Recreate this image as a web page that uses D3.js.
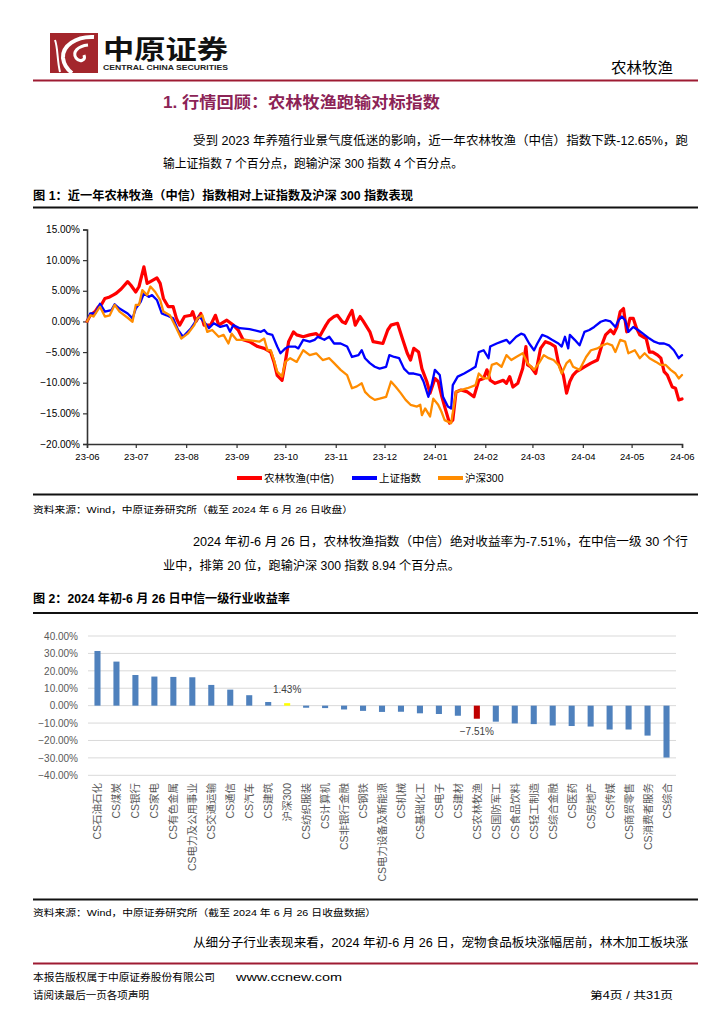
<!DOCTYPE html>
<html><head><meta charset="utf-8">
<script src="https://cdn.jsdelivr.net/npm/d3@7"></script>
<style>body{margin:0;background:#fff}</style>
</head><body><svg id="page" width="724" height="1024"></svg>
<script>
// ---------- DATA ----------
// Figure 1: day offset from 2023-06-26, cumulative return (%)
const redSeries = [[0,0],[2,1.0],[5,1.6],[7,2.4],[9,2.8],[11,3.75],[14,4.0],[16,4.3],[18,4.6],[21,5.3],[25,6.5],[27,5.9],[30,4.8],[32,5.7],[35,8.9],[37,6.2],[39,6.5],[43,7.1],[45,6.2],[47,3.75],[50,2.4],[53,2.4],[55,0.5],[57,-0.6],[60,0.8],[64,1.0],[65,1.6],[67,0],[70,1.3],[72,-0.6],[76,-0.6],[79,1.0],[81,-0.6],[86,0.2],[90,-0.6],[93,-1.4],[96,-3.0],[100,-3.3],[105,-4.1],[109,-4.4],[113,-5.0],[115,-6.6],[117,-8.8],[120,-9.6],[122,-6.6],[124,-3.3],[127,-1.7],[129,-2.2],[133,-2.5],[137,-2.2],[141,-2.0],[143,-2.5],[147,-0.6],[149,0.2],[152,0.8],[154,1.0],[157,-0.05],[159,-0.3],[161,0.8],[163,1.8],[165,-0.6],[168,0.8],[170,0],[174,-1.7],[176,-3.3],[182,-3.6],[185,-1.4],[187,-0.6],[191,-0.3],[194,-2.8],[197,-5.2],[199,-6.3],[201,-4.4],[204,-5.0],[206,-7.7],[209,-9.8],[211,-11.7],[214,-9.3],[216,-9.8],[218,-12],[220,-13.9],[223,-16.6],[225,-16.1],[227,-11.5],[230,-11.2],[234,-11.5],[238,-12.3],[241,-9.6],[244,-9.3],[246,-7.9],[248,-9.6],[251,-10.1],[254,-9.8],[256,-9.6],[258,-10.1],[260,-9.0],[262,-10.7],[265,-10.1],[268,-7.7],[270,-4.1],[271,-7.1],[273,-7.4],[276,-8.5],[279,-4.4],[282,-3.3],[285,-3.6],[288,-4.1],[290,-6.8],[293,-8.75],[295,-11.7],[297,-9.8],[299,-8.75],[301,-8.2],[303,-7.9],[306,-7.4],[310,-6.8],[314,-6.3],[317,-3.6],[319,-2.2],[322,-1.4],[324,-2.0],[326,-0.9],[328,1.6],[330,2.1],[332,-1.7],[334,0.5],[336,0.5],[338,-1.1],[340,-2.2],[342,-2.5],[344,-2.8],[346,-5.0],[348,-5.0],[351,-5.5],[353,-6.0],[355,-8.2],[357,-8.75],[360,-10.7],[362,-10.9],[364,-12.8],[366,-12.65]];
const blueSeries = [[0,0],[2,1.3],[5,1.3],[8,2.9],[11,1.6],[15,1.85],[17,2.8],[20,2.1],[25,1.3],[28,0.5],[30,2.1],[33,3.2],[35,4.6],[38,4.0],[40,4.3],[43,3.5],[46,1.3],[49,1.0],[53,0.5],[56,-1.4],[59,-2.5],[64,-1.1],[66,-0.3],[69,0.8],[72,-0.05],[75,-1.1],[78,-0.3],[82,-0.9],[86,-0.6],[88,-1.7],[90,-0.6],[94,-1.1],[100,-1.25],[107,-1.7],[109,-1.4],[111,-2.0],[114,-2.2],[117,-4.1],[119,-5.2],[122,-4.4],[124,-4.1],[128,-4.1],[130,-4.4],[133,-3.0],[137,-3.3],[140,-3.0],[142,-2.5],[146,-3.0],[149,-2.5],[152,-3.6],[156,-3.6],[160,-4.1],[163,-5.8],[167,-5.5],[169,-4.7],[171,-6.0],[174,-6.8],[177,-7.4],[180,-7.7],[184,-7.4],[186,-5.5],[189,-5.8],[192,-6.0],[195,-7.7],[198,-8.5],[201,-8.5],[205,-8.75],[207,-9.8],[210,-12.3],[212,-10.4],[214,-7.9],[217,-8.75],[219,-12.3],[222,-13.9],[224,-14.2],[225,-10.4],[228,-9.0],[232,-8.5],[236,-7.9],[239,-7.4],[241,-5.0],[244,-4.7],[247,-6.0],[248,-4.1],[252,-3.6],[255,-3.3],[258,-3.0],[260,-3.6],[264,-2.5],[267,-2.0],[269,-2.2],[272,-3.6],[275,-4.7],[277,-3.6],[280,-2.2],[283,-2.5],[286,-3.0],[290,-3.6],[292,-4.1],[294,-2.5],[296,-4.4],[297,-2.2],[300,-3.0],[303,-3.9],[306,-1.7],[309,-1.4],[312,-0.9],[316,-0.05],[319,0.2],[322,0],[325,-0.9],[327,0.2],[329,0.8],[331,0.2],[333,-1.7],[336,-0.9],[339,-1.4],[342,-2.0],[346,-2.8],[349,-3.3],[352,-3.6],[355,-3.6],[358,-3.9],[361,-4.7],[364,-6.0],[366,-5.5]];
const orangeSeries = [[0,0],[2,1.0],[4,0.8],[8,2.4],[11,0.8],[14,1.0],[17,2.7],[20,1.6],[25,0.6],[28,-0.05],[30,2.7],[32,2.7],[34,5.1],[37,4.3],[39,5.7],[42,4.8],[45,3.5],[47,1.6],[51,1.0],[55,-1.1],[58,-2.8],[62,-2.0],[66,-0.6],[68,0.5],[71,1.0],[74,-1.7],[77,-1.4],[81,-2.5],[84,-2.2],[87,-3.6],[89,-2.0],[92,-3.0],[98,-3.0],[106,-3.3],[109,-2.8],[111,-4.7],[113,-4.7],[115,-6.3],[117,-8.2],[120,-9.0],[122,-6.6],[125,-6.0],[129,-6.6],[133,-4.7],[137,-5.5],[141,-5.2],[145,-6.3],[149,-6.0],[152,-6.8],[156,-7.9],[160,-8.75],[163,-10.9],[166,-10.6],[169,-10.1],[171,-11.5],[174,-12.3],[177,-12.8],[180,-12.6],[184,-12.3],[187,-9.8],[190,-10.7],[193,-11.7],[196,-12.8],[199,-13.6],[203,-13.9],[205,-13.6],[206,-15.3],[208,-14.2],[211,-15.5],[213,-12.6],[216,-13.6],[218,-14.7],[220,-16.1],[224,-16.6],[227,-11.5],[230,-11.2],[234,-10.9],[239,-10.4],[241,-8.5],[244,-9.3],[247,-9.3],[249,-7.1],[252,-6.8],[255,-7.4],[258,-5.5],[261,-6.3],[264,-5.8],[268,-5.2],[271,-6.8],[275,-7.9],[278,-6.8],[281,-5.5],[284,-6.0],[287,-6.3],[290,-7.1],[292,-8.5],[295,-6.8],[297,-6.3],[299,-7.4],[303,-7.9],[307,-5.8],[310,-4.7],[314,-4.4],[317,-3.9],[320,-3.6],[323,-3.9],[325,-5.0],[328,-3.0],[331,-3.3],[333,-5.2],[337,-4.7],[340,-6.0],[343,-5.2],[346,-6.0],[350,-6.6],[353,-7.1],[356,-7.1],[359,-7.9],[362,-8.5],[364,-9.3],[366,-8.75]];
const seriesNames = ["农林牧渔(中信)", "上证指数", "沪深300"];
const lineXTickLabels = ["23-06","23-07","23-08","23-09","23-10","23-11","23-12","24-01","24-02","24-03","24-04","24-05","24-06"];
const lineYTicks = [-20,-15,-10,-5,0,5,10,15];

// Figure 2
const barCategories = ["CS石油石化","CS煤炭","CS银行","CS家电","CS有色金属","CS电力及公用事业","CS交通运输","CS通信","CS汽车","CS建筑","沪深300","CS纺织服装","CS计算机","CS非银行金融","CS钢铁","CS电力设备及新能源","CS机械","CS基础化工","CS电子","CS建材","CS农林牧渔","CS国防军工","CS食品饮料","CS轻工制造","CS综合金融","CS医药","CS房地产","CS传媒","CS商贸零售","CS消费者服务","CS综合"];
const barValues = [31.4,25.3,17.6,16.7,16.5,16.3,11.9,9.2,6.0,2.1,1.43,-1.2,-1.4,-2.2,-3.0,-3.6,-3.5,-4.4,-4.8,-5.8,-7.51,-9.2,-10.2,-10.6,-11.4,-11.7,-12.0,-13.7,-13.7,-17.2,-29.8];
const barYTicks = [-40,-30,-20,-10,0,10,20,30,40];

// ---------- DRAW ----------
const FONT = "'Liberation Sans','Noto Sans CJK SC',sans-serif";
const svg = d3.select("#page");
svg.append("rect").attr("width",724).attr("height",1024).attr("fill","#fff");

function txt(x, y, s, o = {}) {
  const t = svg.append("text").attr("x", x).attr("y", y).text(s)
    .attr("font-family", FONT).attr("font-size", o.size || 12.5)
    .attr("fill", o.fill || "#000").attr("font-weight", o.weight || "normal")
    .attr("text-anchor", o.anchor || "start");
  if (o.len) t.attr("textLength", o.len).attr("lengthAdjust", "spacingAndGlyphs");
  return t;
}
function hline(x1, x2, y, color, w) {
  svg.append("line").attr("x1",x1).attr("x2",x2).attr("y1",y).attr("y2",y)
    .attr("stroke",color).attr("stroke-width",w);
}

// Header logo
svg.append("rect").attr("x",50).attr("y",33).attr("width",48).attr("height",40).attr("fill","#A3262C");
svg.append("path").attr("d","M94 37 C76 36 62 46 63 58 C64 66 68 70 72 73")
  .attr("fill","none").attr("stroke","#fff").attr("stroke-width",4);
svg.append("path").attr("d","M88 45 C78 46 72 52 76 58 C80 63 86 60 84 55")
  .attr("fill","none").attr("stroke","#fff").attr("stroke-width",3);
svg.append("path").attr("d","M55 40 C58 48 57 60 60 72")
  .attr("fill","none").attr("stroke","#fff").attr("stroke-width",2);
txt(103, 59, "中原证券", {size: 26, weight: "bold", len: 125, fill:"#111"});
txt(103, 70, "CENTRAL CHINA SECURITIES", {size: 7.5, weight: "bold", len: 125, fill:"#222"});
txt(673, 73, "农林牧渔", {size: 15, anchor: "end", len: 62});
hline(33, 698, 80.5, "#9E1B32", 2);

// Title & paragraph 1
txt(163, 108, "1. 行情回顾：农林牧渔跑输对标指数", {size: 16, weight: "bold", fill: "#8C2356", len: 277});
txt(193, 145, "受到 2023 年养殖行业景气度低迷的影响，近一年农林牧渔（中信）指数下跌-12.65%，跑", {len: 495});
txt(163, 168, "输上证指数 7 个百分点，跑输沪深 300 指数 4 个百分点。", {len: 300});

// Figure 1 caption
txt(33, 200, "图 1：近一年农林牧渔（中信）指数相对上证指数及沪深 300 指数表现", {size: 12, weight: "bold", len: 380});
hline(33, 698, 207.5, "#111", 2);

// Line chart
const start = new Date(2023, 5, 26);
const x1 = d3.scaleTime().domain([start, d3.timeDay.offset(start, 366)]).range([87, 682]);
const y1 = d3.scaleLinear().domain([-20, 15]).range([444, 229.5]);
const tickDates = lineXTickLabels.map((_, i) => d3.timeMonth.offset(start, i));

const gy = svg.append("g").attr("transform","translate(87,0)")
  .call(d3.axisLeft(y1).tickValues(lineYTicks).tickSize(4).tickPadding(3)
    .tickFormat(d => d3.format(".2f")(d) + "%"));
const gx = svg.append("g").attr("transform","translate(0,444)")
  .call(d3.axisBottom(x1).tickValues(tickDates).tickSize(4).tickPadding(5)
    .tickFormat((d, i) => lineXTickLabels[i]));
[gy, gx].forEach(g => {
  g.selectAll(".domain").attr("stroke","#333").attr("stroke-width",1.6);
  g.selectAll(".tick line").attr("stroke","#333").attr("stroke-width",1.2);
  g.selectAll("text").attr("font-family",FONT).attr("fill","#000");
});
gy.selectAll("text").attr("font-size",10);
gx.selectAll("text").attr("font-size",9.5);

const line = d3.line().x(d => x1(d3.timeDay.offset(start, d[0]))).y(d => y1(d[1]));
const lineDefs = [
  {data: redSeries, color: "#FF0000", w: 3.2},
  {data: blueSeries, color: "#0000FF", w: 2.3},
  {data: orangeSeries, color: "#FF8C00", w: 2.3}
];
lineDefs.forEach(s => {
  svg.append("path").datum(s.data).attr("d", line).attr("fill","none")
    .attr("stroke", s.color).attr("stroke-width", s.w)
    .attr("stroke-linejoin","round").attr("stroke-linecap","round");
});

// Legend
const legendX = [237, 352, 438];
seriesNames.forEach((n, i) => {
  svg.append("line").attr("x1", legendX[i]).attr("x2", legendX[i] + 25).attr("y1", 478).attr("y2", 478)
    .attr("stroke", lineDefs[i].color).attr("stroke-width", 4);
  txt(legendX[i] + 27, 482, n, {size: 10.5});
});

hline(33, 698, 494.5, "#111", 2);
txt(33, 513, "资料来源：Wind，中原证券研究所（截至 2024 年 6 月 26 日收盘）", {size: 9.5, len: 320});

// Paragraph 2
txt(193, 546, "2024 年初-6 月 26 日，农林牧渔指数（中信）绝对收益率为-7.51%，在中信一级 30 个行", {len: 495});
txt(163, 570, "业中，排第 20 位，跑输沪深 300 指数 8.94 个百分点。", {len: 297});

// Figure 2 caption
txt(33, 603, "图 2：2024 年初-6 月 26 日中信一级行业收益率", {size: 12, weight: "bold", len: 257});
hline(33, 698, 613, "#111", 2);

// Bar chart
const xb = d3.scaleBand().domain(barCategories).range([88, 676]).paddingInner(0.68).paddingOuter(0.34);
const yb = d3.scaleLinear().domain([-40, 40]).range([775.3, 636]);
svg.append("g").selectAll("line").data(barYTicks).join("line")
  .attr("x1", 88).attr("x2", 676).attr("y1", d => yb(d)).attr("y2", d => yb(d))
  .attr("stroke", "#D9D9D9").attr("stroke-width", 1);
const gby = svg.append("g").attr("transform","translate(88,0)")
  .call(d3.axisLeft(yb).tickValues(barYTicks).tickSize(0).tickPadding(10)
    .tickFormat(d => d3.format(".2f")(d) + "%"));
gby.select(".domain").remove();
gby.selectAll("text").attr("font-family", FONT).attr("font-size", 10).attr("fill", "#595959");

const barColor = c => c === "沪深300" ? "#FFFF00" : (c === "CS农林牧渔" ? "#C00000" : "#4F81BD");
svg.append("g").selectAll("rect").data(barCategories).join("rect")
  .attr("x", c => xb(c)).attr("width", xb.bandwidth())
  .attr("y", (c, i) => yb(Math.max(0, barValues[i])))
  .attr("height", (c, i) => Math.abs(yb(barValues[i]) - yb(0)))
  .attr("fill", barColor);

svg.append("g").selectAll("text").data(barCategories).join("text")
  .attr("transform", c => `translate(${xb(c) + xb.bandwidth()/2},783) rotate(-90)`)
  .attr("text-anchor", "end").attr("dominant-baseline", "central")
  .attr("font-family", FONT).attr("font-size", 10.5).attr("fill", "#595959")
  .text(c => c);

// value labels
const labelled = ["沪深300", "CS农林牧渔"];
labelled.forEach(c => {
  const i = barCategories.indexOf(c);
  const v = barValues[i];
  const y = v >= 0 ? yb(v) - 10 : yb(v) + 16;
  svg.append("text").attr("x", xb(c) + xb.bandwidth()/2).attr("y", y)
    .attr("text-anchor","middle").attr("font-family", FONT).attr("font-size", 10)
    .attr("fill", "#404040").text(d3.format(".2f")(v) + "%");
});

hline(33, 698, 899.5, "#111", 2);
txt(33, 916, "资料来源：Wind，中原证券研究所（截至 2024 年 6 月 26 日收盘数据）", {size: 9.5, len: 343});

// Paragraph 3
txt(193, 947, "从细分子行业表现来看，2024 年初-6 月 26 日，宠物食品板块涨幅居前，林木加工板块涨", {len: 495});

// Footer
hline(33, 698, 963.5, "#9E1B32", 2);
txt(33, 981, "本报告版权属于中原证券股份有限公司", {size: 10.5, len: 182});
txt(236, 981, "www.ccnew.com", {size: 11, len: 106});
txt(33, 999, "请阅读最后一页各项声明", {size: 10.5, len: 116});
txt(673, 999, "第4页 / 共31页", {size: 10.5, anchor: "end", len: 83});
</script></body></html>
